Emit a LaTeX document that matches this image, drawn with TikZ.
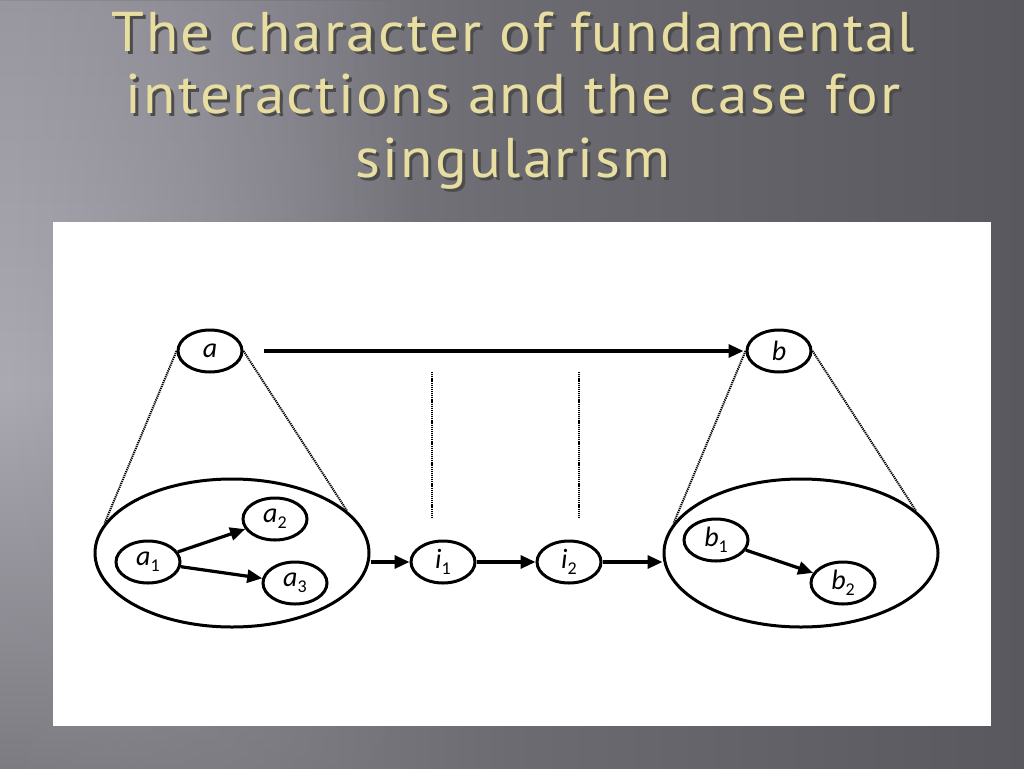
\documentclass[tikz,border=0pt]{standalone}
\usepackage{fontspec}
\setmainfont{PT Sans}
\newfontfamily\ttlfont[LetterSpace=4]{PT Sans}
\newfontfamily\lblfont{Carlito}
\usetikzlibrary{shapes.geometric,arrows.meta,fadings}
\definecolor{bgL}{HTML}{8E8C94}
\definecolor{bgM}{HTML}{6C6B72}
\definecolor{bgR}{HTML}{58585E}
\definecolor{lfT}{HTML}{99979F}
\definecolor{lfM}{HTML}{ABA9B1}
\definecolor{lfB}{HTML}{7C7B82}
\definecolor{titlegold}{HTML}{E9DEA2}
\newcommand\subdigit[1]{\raisebox{-6pt}{\fontsize{18}{18}\selectfont\upshape #1}}
\newcommand\ttltext[1]{\scalebox{1.055}[1]{\makebox[0pt][l]{\hspace{3pt}\raisebox{-3pt}{\color{black!70}#1}}#1}}
\begin{document}
\begin{tikzpicture}[x=1pt,y=-1pt,
  sm/.style={draw, line width=3pt, ellipse, minimum width=64pt, minimum height=42pt, inner sep=0pt, fill=white, font=\lblfont\fontsize{28}{28}\selectfont\itshape},
  bigell/.style={draw, line width=3pt, ellipse, minimum width=274pt, minimum height=148pt, inner sep=0pt},
  arr/.style={line width=3.2pt, -{Triangle[length=15pt,width=13pt]}},
  dots/.style={line width=2pt, dash pattern=on 1.2pt off 0.9pt},
  ttl/.style={font=\ttlfont\fontsize{56}{56}\selectfont, text=titlegold, anchor=base},
]
\useasboundingbox (0,0) rectangle (1024,768);
\shade[left color=bgL, right color=bgR, middle color=bgM] (0,0) rectangle (1024,768);
\shade[top color=lfT, bottom color=lfB, middle color=lfM, path fading=east] (0,0) rectangle (420,768);

% title
\node[ttl] (t1) at (513,52) {\ttltext{The character of fundamental}};
\node[ttl] (t2) at (513,113) {\ttltext{interactions and the case for}};
\node[ttl] (t3) at (513,177) {\ttltext{singularism}};

% white panel
\fill[white] (53,222) rectangle (991,726);

% big ellipses
\node[bigell] (A) at (232,553) {};
\node[bigell] (B) at (801,553) {};

% small nodes
\node[sm] (a) at (210,351) {a};
\node[sm] (b) at (779,351) {b};
\node[sm] (a1) at (148,562) {a\subdigit{1}};
\node[sm] (a2) at (275,519) {a\subdigit{2}};
\node[sm] (a3) at (295,583) {a\subdigit{3}};
\node[sm] (i1) at (443,562) {i\subdigit{1}};
\node[sm] (i2) at (569,562) {i\subdigit{2}};
\node[sm] (b1) at (716,540) {b\subdigit{1}};
\node[sm] (b2) at (843,583) {b\subdigit{2}};

% dotted projections
\draw[dots] (a.west) -- (A.167);
\draw[dots] (a.east) -- (A.20);
\draw[dots] (b.west) -- (B.167);
\draw[dots] (b.east) -- (B.20);
\coordinate (v1t) at (432,372);
\coordinate (v1b) at (432,518);
\coordinate (v2t) at (579,372);
\coordinate (v2b) at (579,518);
\draw[dots] (v1t) -- (v1b);
\draw[dots] (v2t) -- (v2b);

% arrows
\draw[arr, shorten <=20pt, shorten >=2pt] (a) -- (b);
\draw[arr] (a1) -- (a2);
\draw[arr] (a1) -- (a3);
\draw[arr] (b1) -- (b2);
\draw[arr] (A.east |- i1) -- (i1);
\draw[arr] (i1) -- (i2);
\draw[arr] (i2) -- (B.west |- i2);
\end{tikzpicture}
\end{document}
